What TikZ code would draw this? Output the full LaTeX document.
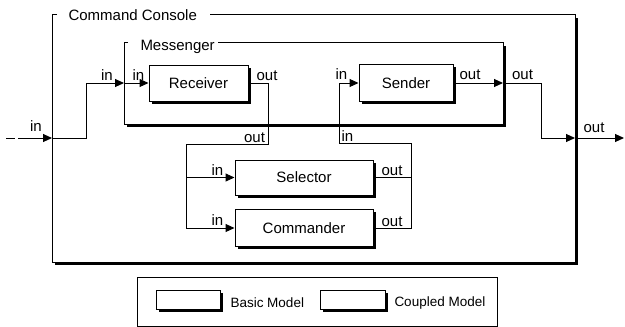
\documentclass[tikz,border=0pt]{standalone}
\usepackage{fontspec}
\setmainfont{Liberation Sans}
\usetikzlibrary{arrows.meta,shadows}
\begin{document}
\begin{tikzpicture}[x=1pt,y=-1pt,
  line width=1pt,
  font=\fontsize{15}{18}\selectfont,
  basic/.style={draw, fill=white, inner sep=0pt,
    drop shadow={shadow xshift=2.5pt, shadow yshift=-2.5pt, fill=black, opacity=1}},
  frame/.style={inner sep=0pt, outer sep=0pt},
  lbl/.style={inner sep=0pt},
  arr/.style={-{Triangle[length=9pt,width=8pt]}},
  shade edge/.style={line width=3pt}]
\useasboundingbox (0,0) rectangle (625,327);

% coupled model frames (regions only, outlines drawn below)
\node[frame, minimum width=523pt, minimum height=248pt] (cc) at (313.5,138) {};
\node[frame, minimum width=379pt, minimum height=82pt] (msg) at (313.5,83) {};

% Command Console outline with title gap and heavy right/bottom edges
\draw ([xshift=5pt]cc.north west) -- (cc.north west) -- (cc.south west) -- (cc.south east) -- (cc.north east) -- ([xshift=-365pt]cc.north east);
\draw[shade edge] ([shift={(1.5,4)}]cc.north east) -- ([shift={(1.5,1.5)}]cc.south east) -- ([shift={(3,1.5)}]cc.south west);
\node[lbl, anchor=base west] (cctitle) at (68,20.5) {Command Console};

% Messenger outline
\draw ([xshift=4pt]msg.north west) -- (msg.north west) -- (msg.south west) -- (msg.south east) -- (msg.north east) -- ([xshift=-285pt]msg.north east);
\draw[shade edge] ([shift={(1.5,4)}]msg.north east) -- ([shift={(1.5,1.5)}]msg.south east) -- ([shift={(3,1.5)}]msg.south west);
\node[lbl, anchor=base west] (msgtitle) at (140,50) {Messenger};

% basic models
\node[basic, minimum width=99pt, minimum height=36pt] (rec) at (198.5,83) {Receiver};
\node[basic, minimum width=94pt, minimum height=37pt] (snd) at (406,83) {Sender};
\node[basic, minimum width=138pt, minimum height=35pt] (sel) at (304,177.5) {Selector};
\node[basic, minimum width=138pt, minimum height=37pt] (cmd) at (304,228) {Commander};

% junction points of the couplings
\coordinate (ext) at (6,138);
\coordinate (extout) at (624,138);
\coordinate (j1) at (268,144);
\coordinate (j2) at (186,144);
\coordinate (k1) at (411,143);
\coordinate (k2) at (339,143);
\coordinate (m1) at (541,138);

% couplings
\draw[arr, dash pattern=on 9pt off 3pt on 60pt] (ext) -- (cc.west);
\draw[arr] (cc.west) -- (86,138) |- (msg.west);
\draw[arr] (msg.west) -- (rec.west);
\draw[arr] (rec.east) -| (j1) -- (j2) |- (cmd.west);
\draw[arr] (j2 |- sel.west) -- (sel.west);
\draw[arr] (cmd.east) -| (k1) -- (k2) |- (snd.west);
\draw (sel.east) -- (k1 |- sel.east);
\draw[arr] (snd.east) -- (msg.east);
\draw[arr] (msg.east) -| (m1) -- (cc.east);
\draw[arr] (cc.east) -- (extout);

% port labels
\node[lbl] (p1) at (36,126) {in};
\node[lbl] (p2) at (107,75.5) {in};
\node[lbl] (p3) at (138.5,75.5) {in};
\node[lbl] (p4) at (267,76) {out};
\node[lbl] (p5) at (254.5,138) {out};
\node[lbl] (p6) at (341.5,74.5) {in};
\node[lbl] (p7) at (347.5,136) {in};
\node[lbl] (p8) at (470,75) {out};
\node[lbl] (p9) at (522.5,75) {out};
\node[lbl] (p10) at (594,128) {out};
\node[lbl] (p11) at (217.5,170) {in};
\node[lbl] (p12) at (217.5,220) {in};
\node[lbl] (p13) at (392,171) {out};
\node[lbl] (p14) at (392,221.5) {out};

% legend
\node[draw, line width=0.8pt, minimum width=360pt, minimum height=49pt, inner sep=0pt] (leg) at (317,301.5) {};
\node[basic, minimum width=64pt, minimum height=19pt] (bicon) at (188,299.5) {};
\node[lbl, anchor=west, font=\fontsize{13.5}{16}\selectfont] (btext) at (230,303) {Basic Model};
\node[basic, minimum width=65pt, minimum height=19pt] (cicon) at (352.5,299.5) {};
\node[lbl, anchor=west, font=\fontsize{13.5}{16}\selectfont] (ctext) at (394,303) {Coupled Model};
\end{tikzpicture}
\end{document}
